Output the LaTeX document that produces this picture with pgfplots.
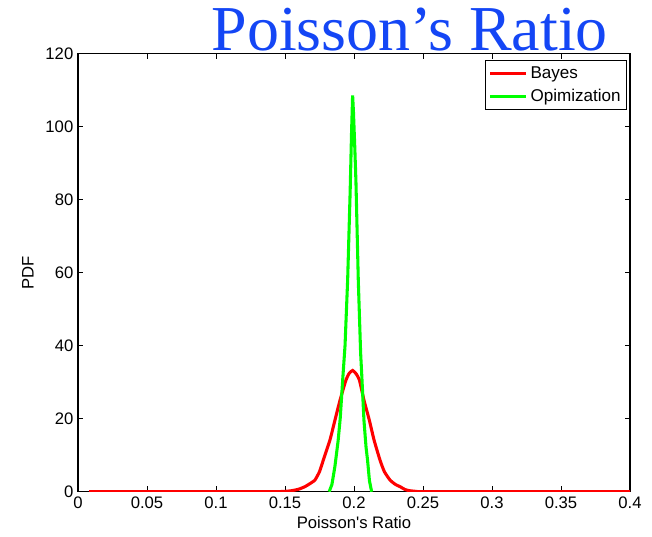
\documentclass[border=0pt]{standalone}
\usepackage{pgfplots}
\pgfplotsset{compat=1.18}
\usepackage{fontspec}
\setmainfont{Liberation Sans}[Ligatures=TeXOff]
\newfontfamily\titlefont{Liberation Serif}
\definecolor{titleblue}{RGB}{20,70,245}
\begin{document}
\begin{tikzpicture}
\begin{axis}[
  at={(0,0)}, anchor=south west,
  scale only axis,
  width=414pt, height=328.8pt,
  xmin=0, xmax=0.4, ymin=0, ymax=120,
  xtick={0,0.05,...,0.4}, ytick={0,20,...,120},
  xticklabels={0,0.05,0.1,0.15,0.2,0.25,0.3,0.35,0.4},
  tick align=inside,
  major tick length=4pt,
  tick style={black, line width=0.6pt},
  axis line style={black, line width=0.8pt},
  /pgf/number format/assume math mode=true,
  scaled ticks=false,
  tick label style={font=\fontsize{12.5}{14}\selectfont},
  label style={font=\fontsize{12.5}{14}\selectfont},
  xlabel={Poisson's Ratio},
  ylabel={PDF},
  xlabel style={yshift=1pt},
  ylabel style={yshift=2pt},
  legend style={at={(0.9946,0.9847)}, anchor=north east,
    font=\fontsize{12.8}{14}\selectfont, draw=black, line width=0.6pt,
    inner sep=2.5pt, row sep=2.5pt},
  legend cell align=left,
  legend image code/.code={\draw[#1, line width=2.2pt] (0cm,0cm) -- (0.95cm,0cm);},
]
\addplot[red, line width=2.3pt, smooth, tension=0.3] coordinates {
(0.008,0) (0.05,0) (0.10,0) (0.14,0) (0.150,0.1) (0.155,0.3) (0.160,0.7)
(0.1645,1.4) (0.168,2.2) (0.1717,3.2) (0.175,5.5) (0.1778,8.7) (0.1826,14.2)
(0.1862,19.6) (0.1899,25.1) (0.1942,30.6) (0.1965,32.4) (0.199,33.2)
(0.2015,32.3) (0.2039,30.6) (0.2072,25.1) (0.2111,19.6) (0.2145,14.2)
(0.2188,8.7) (0.222,5.5) (0.2261,3.2) (0.2300,2.0) (0.2333,1.4) (0.237,0.6)
(0.240,0.3) (0.245,0.1) (0.25,0) (0.30,0) (0.35,0) (0.40,0)
};
\addlegendentry{Bayes}
\addplot[green, line width=2.3pt] coordinates {
(0.1820,0) (0.1840,2) (0.1862,7) (0.1885,14) (0.1900,20) (0.1918,30.6)
(0.1935,40) (0.1954,58) (0.1972,82) (0.1982,98) (0.1990,108.5) (0.1996,104)
(0.2005,95) (0.2014,85) (0.2031,58) (0.2048,38) (0.2058,30.6) (0.2072,19.6)
(0.2087,12.3) (0.2098,8.7) (0.2112,3) (0.2128,0)
};
\addlegendentry{Opimization}
\end{axis}
\node[anchor=base, text=titleblue, font=\titlefont\fontsize{48}{48}\selectfont, inner sep=0pt]
  at (248.8pt,331.2pt) {Poisson’s Ratio};
\pgfresetboundingbox
\useasboundingbox (-58.5pt,-33.2pt) rectangle (430.5pt,368.8pt);
\end{tikzpicture}
\end{document}
